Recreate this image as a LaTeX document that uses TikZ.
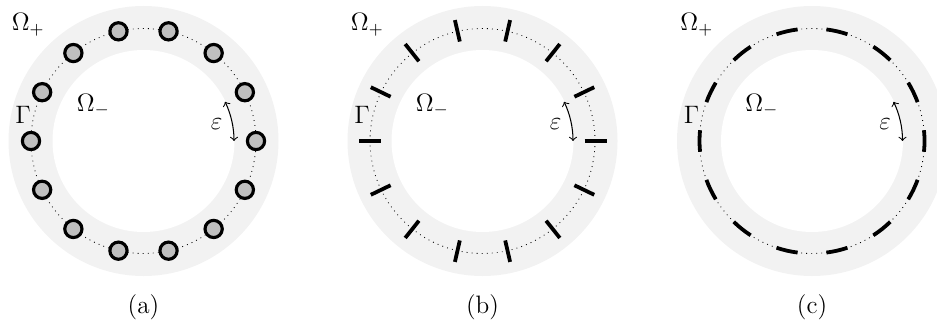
\documentclass[tikz,border=0pt]{standalone}
\usetikzlibrary{calc}
\definecolor{ringfillc}{HTML}{F2F2F2}
\definecolor{holefillc}{HTML}{BFBFBF}
\tikzset{
  ringfill/.style={fill=ringfillc},
  gammaline/.style={dotted, line width=0.4pt},
  holedot/.style={circle, draw=black, line width=1.5pt, fill=holefillc, inner sep=0pt, minimum size=8.2pt},
  slitmark/.style={draw=black, line width=1.8pt},
  epsarrow/.style={<->, line width=0.5pt},
  txt/.style={font=\fontsize{12}{14}\selectfont},
  lbl/.style={txt, inner sep=0pt, anchor=base west},
  captionlbl/.style={txt, inner sep=0pt, anchor=base},
}
\newcommand\ringbase[3]{%
  \coordinate (#1) at (#2,181);
  \fill[ringfill] (#1) circle[radius=135];
  \fill[white] (#1) circle[radius=91];
  \draw[gammaline] (#1) circle[radius=112.5];
  \node[lbl] (#1op) at ($(#1)+(-132,110)$) {$\Omega_+$};
  \node[lbl] (#1om) at ($(#1)+(-67,30)$) {$\Omega_-$};
  \node[lbl] (#1g) at ($(#1)+(-128.5,18)$) {$\Gamma$};
  \node[captionlbl] (#1cap) at ($(#1)+(0,-172)$) {(#3)};
}
\newcommand\epsmark[1]{%
  \coordinate (#1e0) at ($(#1)+(0:90.5)$);
  \draw[epsarrow] (#1e0) arc[start angle=0, end angle=25.7, radius=90.5];
  \node[txt] (#1eps) at ($(#1)+(12.86:75)$) {$\varepsilon$};
}
\begin{document}
\begin{tikzpicture}[x=0.476pt,y=0.476pt]
\useasboundingbox (0,0) rectangle (937,322);
\clip (0,0) rectangle (937,322);
% panel (a)
\ringbase{A}{143.5}{a}
\foreach \k in {0,...,13}{
  \node[holedot] (Ah\k) at ($(A)+(\k*360/14:112.5)$) {};
}
\epsmark{A}
% panel (b)
\ringbase{B}{482.5}{b}
\foreach \k in {0,...,13}{
  \coordinate (Bs\k) at ($(B)+(\k*360/14:102)$);
  \coordinate (Bt\k) at ($(B)+(\k*360/14:124)$);
  \draw[slitmark] (Bs\k) -- (Bt\k);
}
\epsmark{B}
% panel (c)
\ringbase{C}{812}{c}
\foreach \k in {0,...,13}{
  \pgfmathsetmacro{\sa}{\k*360/14-5.5}
  \coordinate (Cs\k) at ($(C)+(\sa:112.5)$);
  \draw[slitmark] (Cs\k) arc[start angle=\sa, delta angle=11, radius=112.5];
}
\epsmark{C}
\end{tikzpicture}
\end{document}
